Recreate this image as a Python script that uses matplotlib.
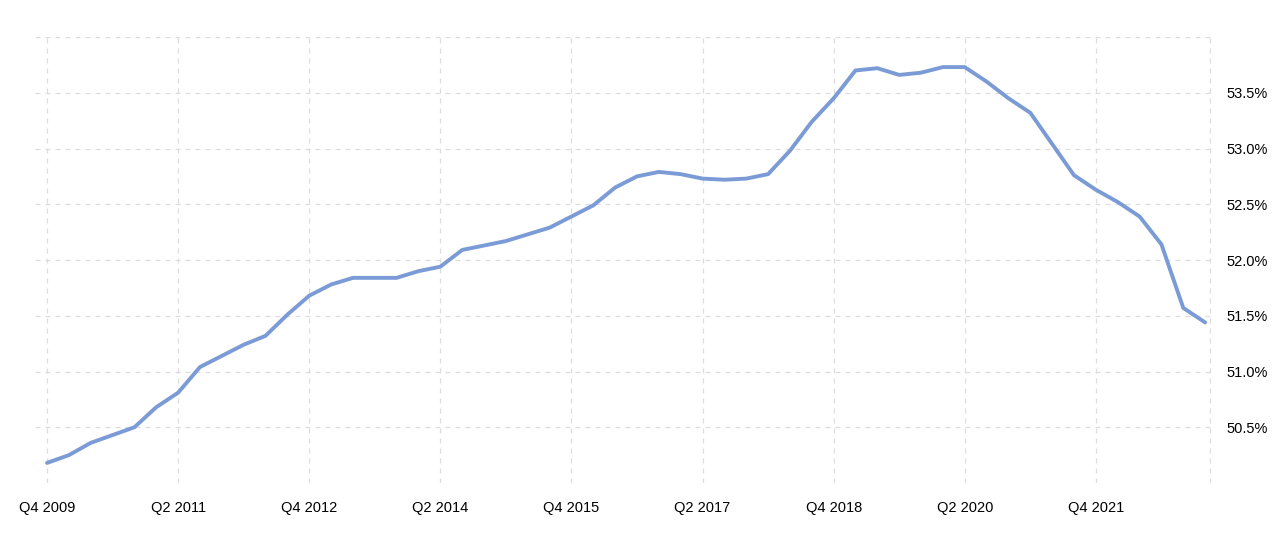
import matplotlib.pyplot as plt
from matplotlib.ticker import FixedLocator

quarters = list(range(54))  # Q4 2009 .. Q1 2023
share = [50.18, 50.25, 50.36, 50.43, 50.50, 50.68, 50.81, 51.04, 51.14, 51.24,
         51.32, 51.51, 51.68, 51.78, 51.84, 51.84, 51.84, 51.90, 51.94, 52.09,
         52.13, 52.17, 52.23, 52.29, 52.39, 52.49, 52.65, 52.75, 52.79, 52.77,
         52.73, 52.72, 52.73, 52.77, 52.98, 53.24, 53.45, 53.70, 53.72, 53.66,
         53.68, 53.73, 53.73, 53.60, 53.45, 53.32, 53.04, 52.76, 52.63, 52.52,
         52.39, 52.14, 51.57, 51.44]
tick_pos = [0, 6, 12, 18, 24, 30, 36, 42, 48]
tick_labels = ['Q4 2009', 'Q2 2011', 'Q4 2012', 'Q2 2014', 'Q4 2015',
               'Q2 2017', 'Q4 2018', 'Q2 2020', 'Q4 2021']
y_ticks = [50.5, 51.0, 51.5, 52.0, 52.5, 53.0, 53.5]

fig = plt.figure(figsize=(12.8, 5.36), dpi=100)
ax = fig.add_axes([35/1280, 1 - 483/536, (1213 - 35)/1280, (483 - 37)/536])
ax.plot(quarters, share, color='#7b9bd6', lw=2.8, solid_capstyle='round')
ax.set_xlim(-0.55, 53.36)
ax.set_ylim(50.0, 54.0)

ax.xaxis.set_major_locator(FixedLocator(tick_pos))
ax.set_xticklabels(tick_labels, fontsize=10.5, family='Liberation Sans')
ax.xaxis.set_minor_locator(FixedLocator([53.2]))
ax.yaxis.set_major_locator(FixedLocator(y_ticks))
ax.set_yticklabels([f'{v:.1f}%' for v in y_ticks], fontsize=10.5, family='Liberation Sans')
ax.yaxis.set_minor_locator(FixedLocator([54.0]))
ax.yaxis.tick_right()
ax.tick_params(length=0, which='both')
ax.tick_params(axis='x', pad=13)
ax.tick_params(axis='y', pad=10)
ax.grid(True, which='both', color='#dddddd', ls=(0, (4, 4)), lw=0.9)
for s in ax.spines.values():
    s.set_visible(False)

fig.savefig('out.png', dpi=100)
